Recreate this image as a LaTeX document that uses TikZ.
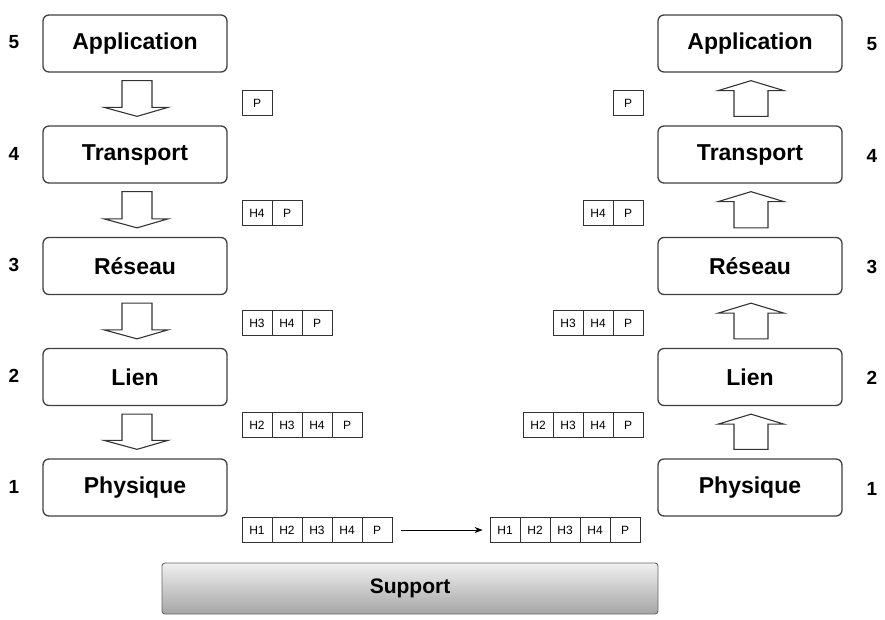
\documentclass[tikz,border=0pt]{standalone}
\usepackage{fontspec}
\setmainfont{Liberation Sans}
\usetikzlibrary{calc,arrows.meta}

% one packet: #1 name prefix, #2 left edge, #3 centre line, #4 cell labels
\newcommand{\drawpacket}[4]{%
  \foreach \lab [count=\i from 0] in {#4} {
    \node[cell] (#1-\i) at ({#2+15+30*\i},#3) {\lab};
  }%
}
% hollow block arrow pointing down from layer #1 to layer #2
\newcommand{\downblock}[2]{%
  \draw[blockarrow]
    ($(#1.south)+(-13,8)$) -- ($(#1.south)+(17,8)$) --
    ($(#2.north)+(17,-18)$) -- ($(#2.north)+(33,-18)$) --
    ($(#2.north)+(2,-9)$) --
    ($(#2.north)+(-31,-18)$) -- ($(#2.north)+(-13,-18)$) -- cycle;
}
% hollow block arrow pointing up from layer #1 to layer #2
\newcommand{\upblock}[2]{%
  \draw[blockarrow]
    ($(#1.north)+(-16,-9)$) -- ($(#1.north)+(18,-9)$) --
    ($(#2.south)+(18,18)$) -- ($(#2.south)+(34,18)$) --
    ($(#2.south)+(1,8)$) --
    ($(#2.south)+(-32,18)$) -- ($(#2.south)+(-16,18)$) -- cycle;
}

\begin{document}
\begin{tikzpicture}[x=1pt,y=-1pt,
  layer/.style={draw=black!75, line width=1.3pt, rounded corners=6pt,
    minimum width=184pt, minimum height=57pt, inner sep=0pt,
    font=\fontsize{23}{25}\selectfont\bfseries},
  num/.style={font=\fontsize{19}{22}\selectfont\bfseries},
  cell/.style={draw=black!80, line width=0.8pt, minimum width=30pt,
    minimum height=25pt, inner sep=0pt, font=\fontsize{12}{14}\selectfont},
  blockarrow/.style={draw=black!80, line width=1.1pt, fill=white, line join=miter},
]
\useasboundingbox (0,0) rectangle (885,619);

% sending stack
\foreach \n/\t/\y in {5/Application/43.5, 4/Transport/154.5, 3/Réseau/266,
                      2/Lien/377, 1/Physique/487.5} {
  \node[layer] (L\n) at (135,\y) {\t};
  \node[num] (nl\n) at (14,\y-1) {\n};
}
% receiving stack
\foreach \n/\t/\y in {5/Application/43.5, 4/Transport/154.5, 3/Réseau/266,
                      2/Lien/377, 1/Physique/487.5} {
  \node[layer] (R\n) at (750,\y) {\t};
  \node[num] (nr\n) at (872,\y+1) {\n};
}

% encapsulation going down
\downblock{L5}{L4}
\downblock{L4}{L3}
\downblock{L3}{L2}
\downblock{L2}{L1}

% decapsulation going up
\upblock{R1}{R2}
\upblock{R2}{R3}
\upblock{R3}{R4}
\upblock{R4}{R5}

% packets on the sending side
\drawpacket{lp5}{242}{103}{P}
\drawpacket{lp4}{242}{213}{H4,P}
\drawpacket{lp3}{242}{323}{H3,H4,P}
\drawpacket{lp2}{242}{425}{H2,H3,H4,P}
\drawpacket{lp1}{242}{530}{H1,H2,H3,H4,P}

% packets on the receiving side
\drawpacket{rp5}{613}{103}{P}
\drawpacket{rp4}{583}{213}{H4,P}
\drawpacket{rp3}{553}{323}{H3,H4,P}
\drawpacket{rp2}{523}{425}{H2,H3,H4,P}
\drawpacket{rp1}{490}{530}{H1,H2,H3,H4,P}

% transmission over the medium
\draw[line width=0.8pt, -{Stealth[length=8pt,width=6pt]}]
  ([xshift=9pt]lp1-4.east) -- ([xshift=-7pt]rp1-0.west);

% physical medium
\node[draw=black!60, line width=0.9pt, rounded corners=3pt,
  top color=black!6, bottom color=black!35,
  minimum width=496pt, minimum height=51pt, inner sep=0pt,
  font=\fontsize{21}{24}\selectfont\bfseries] (support) at (410,588.5) {Support};
\end{tikzpicture}
\end{document}
